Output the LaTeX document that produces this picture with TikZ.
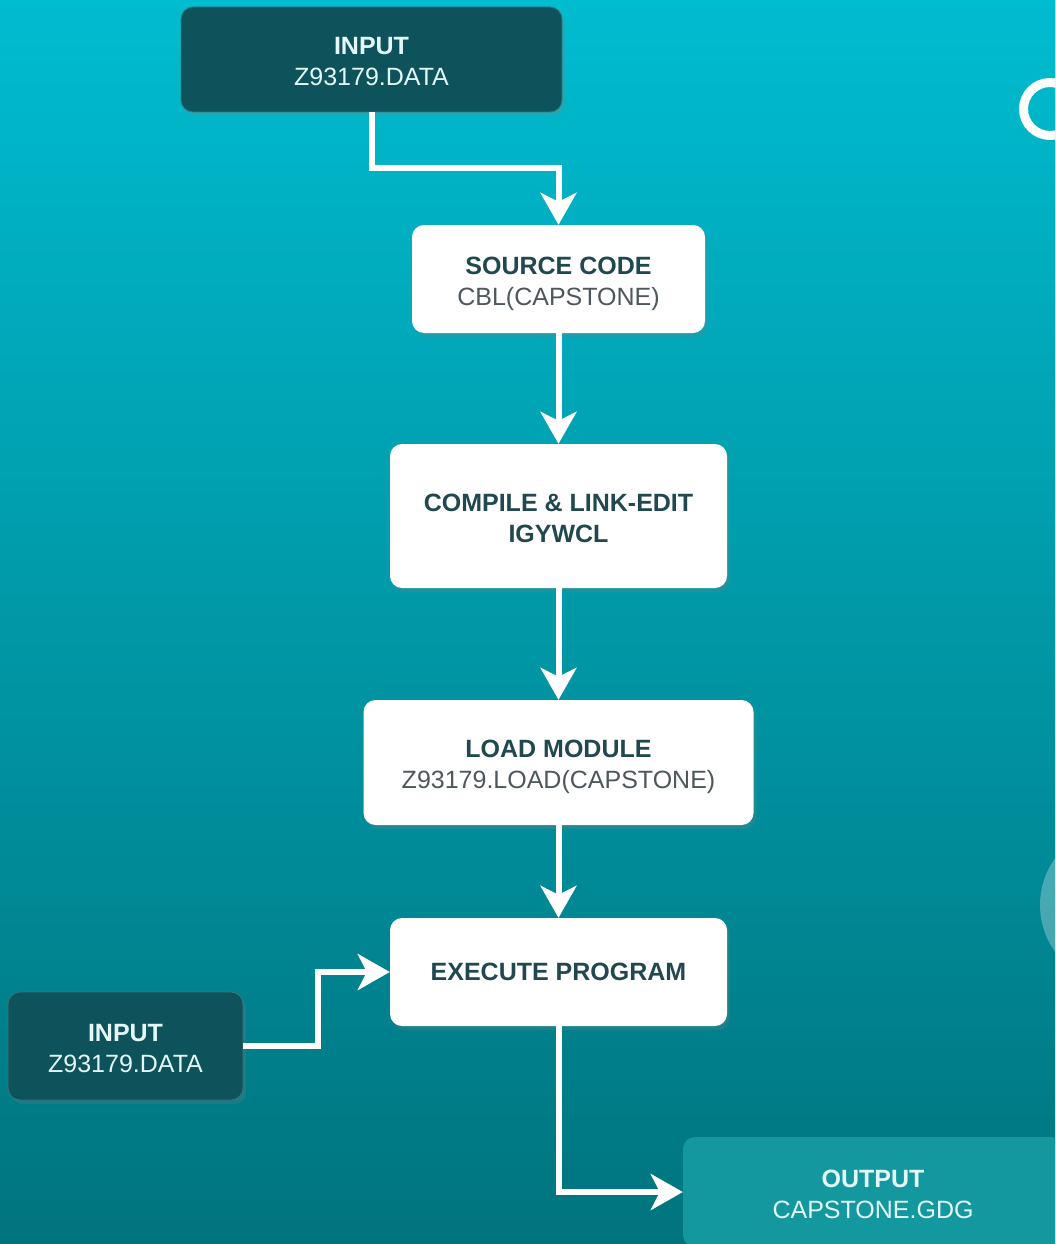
\documentclass[tikz,border=0pt]{standalone}
\usepackage{fontspec}
\setmainfont{Liberation Sans}
\usetikzlibrary{arrows.meta,shadows,positioning}
\definecolor{bgtop}{RGB}{0,188,208}
\definecolor{bgbot}{RGB}{0,116,126}
\definecolor{darkbox}{RGB}{14,83,91}
\definecolor{outbox}{RGB}{20,152,160}
\definecolor{titlecol}{RGB}{33,72,78}
\definecolor{subcol}{RGB}{78,88,92}
\definecolor{lighttext}{RGB}{228,248,248}
\newcommand{\twolines}[2]{\raisebox{0pt}[\dimexpr\height+9pt\relax][\depth]{\begin{tabular}{@{}c@{}}#1\\#2\end{tabular}}}
\tikzset{
  boxbase/.style={rounded corners=12pt, align=center, inner sep=0pt,
    font=\fontsize{25}{31}\selectfont,
    drop shadow={opacity=0.22, shadow xshift=3pt, shadow yshift=-4pt}},
  whitebox/.style={boxbase, fill=white, text=titlecol},
  darkbox/.style={boxbase, fill=darkbox, draw=darkbox!80!white, line width=0.8pt, text=lighttext},
  outputbox/.style={boxbase, fill=outbox, text=lighttext},
  conn/.style={draw=white, line width=6pt,
    -{Stealth[length=32pt, width=36pt, inset=9pt]}},
}
\begin{document}
\begin{tikzpicture}[x=1pt,y=-1pt]
\useasboundingbox (0,0) rectangle (1055,1244);
\clip (0,0) rectangle (1055,1244);
\shade[top color=bgtop, bottom color=bgbot] (0,0) rectangle (1055,1244);
% decorative circles at right edge
\draw[white, line width=9pt] (1050,109) circle (26.5);
\fill[white, opacity=0.28] (1120,905) circle (80);
% nodes
\node[darkbox, minimum width=381pt, minimum height=105pt] (in1) at (371.5,59.5)
  {\twolines{\textbf{INPUT}}{Z93179.DATA}};
\node[whitebox, minimum width=293pt, minimum height=108pt] (src) at (558.5,279)
  {\twolines{\textbf{SOURCE CODE}}{\textcolor{subcol}{CBL(CAPSTONE)}}};
\node[whitebox, minimum width=337pt, minimum height=144pt] (cmp) at (558.5,516)
  {\twolines{\textbf{COMPILE \& LINK-EDIT}}{\textbf{IGYWCL}}};
\node[whitebox, minimum width=390pt, minimum height=125pt] (lod) at (558.5,762.5)
  {\twolines{\textbf{LOAD MODULE}}{\textcolor{subcol}{Z93179.LOAD(CAPSTONE)}}};
\node[whitebox, minimum width=337pt, minimum height=108pt] (exe) at (558.5,972)
  {\textbf{EXECUTE PROGRAM}};
\node[darkbox, minimum width=235pt, minimum height=108pt] (in2) at (125.5,1046)
  {\twolines{\textbf{INPUT}}{Z93179.DATA}};
\node[outputbox, minimum width=380pt, minimum height=110pt] (out) at (873,1192)
  {\twolines{\textbf{OUTPUT}}{CAPSTONE.GDG}};
% connectors
\coordinate (c1) at (465,168);
\coordinate (c2) at (318,1000);
\draw[conn] (in1.south) |- (c1) -| (src.north);
\draw[conn] (src.south) -- (cmp.north);
\draw[conn] (cmp.south) -- (lod.north);
\draw[conn] (lod.south) -- (exe.north);
\draw[conn] (in2.east) -| (c2) |- (exe.west);
\draw[conn] (exe.south) |- (out.west);
\end{tikzpicture}
\end{document}
